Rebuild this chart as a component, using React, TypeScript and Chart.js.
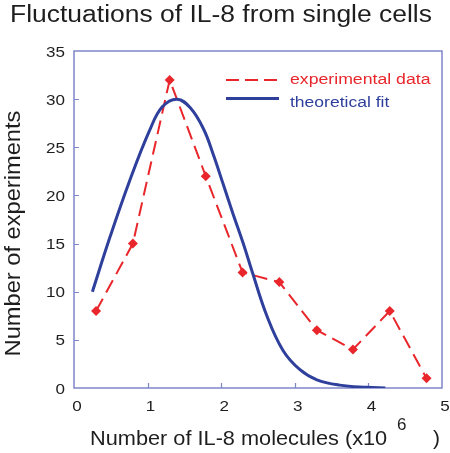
import React, { useEffect, useRef } from "react";
import { Chart, registerables } from "chart.js";

Chart.register(...registerables);

const titleText = "Fluctuations of IL-8 from single cells";
const yTitle = "Number of experiments";
const xTitleMain = "Number of IL-8 molecules (x10";
const xTitleSup = "6";
const xTitleEnd = ")";
const legendLabels = ["experimental data", "theoretical fit"];

const expX = [0.3, 0.8, 1.3, 1.79, 2.29, 2.79, 3.3, 3.79, 4.29, 4.79];
const expY = [8, 15, 32, 22, 12, 11, 6, 4, 8, 1];

const fitX = [0.25, 0.49, 0.76, 1.03, 1.2, 1.4, 1.58, 1.76, 1.89, 2.03, 2.16, 2.3, 2.42, 2.62, 2.84, 3.07, 3.3, 3.61, 3.98, 4.23];
const fitY = [10, 15.7, 21.6, 26.8, 29.2, 30, 29.1, 26.9, 24.3, 21.1, 18.1, 15.0, 12.1, 7.5, 3.9, 1.9, 0.85, 0.3, 0.07, 0];

const xTickLabels = [0, 1, 2, 3, 4, 5];
const yTickLabels = [0, 5, 10, 15, 20, 25, 30, 35];
const yTickMarks = [5, 10, 15, 20, 25, 30];
const xTickMarks = [1, 2, 3, 4];

const RED = "#e8262b";
const BLUE = "#2e3f9c";
const AXIS = "#7f86c8";
const TEXT = "#1e1e1e";
const FONT = "'Liberation Sans', Arial, Helvetica, sans-serif";

function drawText(ctx: CanvasRenderingContext2D, text: string, x: number, y: number, size: number, sx: number, align: CanvasTextAlign, color: string) {
  ctx.save();
  ctx.translate(x, y);
  ctx.scale(sx, 1);
  ctx.font = `${size}px ${FONT}`;
  ctx.fillStyle = color;
  ctx.textAlign = align;
  ctx.textBaseline = "alphabetic";
  ctx.fillText(text, 0, 0);
  ctx.restore();
}

const deco = {
  id: "deco",
  beforeDatasetsDraw(chart: any) {
    const { ctx, chartArea: a, scales } = chart;
    const x = scales.x;
    const y = scales.y;
    ctx.save();
    ctx.strokeStyle = AXIS;
    ctx.lineWidth = 1.5;
    ctx.strokeRect(a.left, a.top, a.right - a.left, a.bottom - a.top);
    ctx.lineWidth = 1.2;
    ctx.beginPath();
    yTickMarks.forEach((v) => {
      const py = Math.round(y.getPixelForValue(v)) + 0.5;
      ctx.moveTo(a.left, py);
      ctx.lineTo(a.left + 5, py);
    });
    xTickMarks.forEach((v) => {
      const px = Math.round(x.getPixelForValue(v)) + 0.5;
      ctx.moveTo(px, a.bottom);
      ctx.lineTo(px, a.bottom - 5);
    });
    ctx.stroke();
    ctx.restore();

    yTickLabels.forEach((v) => {
      drawText(ctx, String(v), a.left - 9, y.getPixelForValue(v) + 5.5, 15.5, 1.1, "right", TEXT);
    });
    xTickLabels.forEach((v) => {
      drawText(ctx, String(v), x.getPixelForValue(v) + 3, a.bottom + 22.5, 15.5, 1.1, "center", TEXT);
    });
  },
  afterDraw(chart: any) {
    const { ctx } = chart;
    ctx.save();
    ctx.lineWidth = 2;
    ctx.strokeStyle = RED;
    ctx.setLineDash([13, 6]);
    ctx.beginPath();
    ctx.moveTo(226, 80);
    ctx.lineTo(279, 80);
    ctx.stroke();
    ctx.setLineDash([]);
    ctx.lineWidth = 3;
    ctx.strokeStyle = BLUE;
    ctx.beginPath();
    ctx.moveTo(226, 98.5);
    ctx.lineTo(279, 98.5);
    ctx.stroke();
    ctx.restore();
    drawText(ctx, legendLabels[0], 290, 84, 15.5, 1.14, "left", RED);
    drawText(ctx, legendLabels[1], 290, 107, 15.5, 1.13, "left", BLUE);

    drawText(ctx, titleText, 221, 22, 23, 1.15, "center", TEXT);

    ctx.save();
    ctx.translate(20, 233.5);
    ctx.rotate(-Math.PI / 2);
    drawText(ctx, yTitle, 0, 0, 21.5, 1.1, "center", TEXT);
    ctx.restore();

    drawText(ctx, xTitleMain, 90, 445, 21, 1.035, "left", TEXT);
    drawText(ctx, xTitleSup, 397, 430, 17, 1.0, "left", TEXT);
    drawText(ctx, xTitleEnd, 433, 445, 21, 1.0, "left", TEXT);
  },
};

export default function App() {
  const ref = useRef<HTMLCanvasElement | null>(null);
  useEffect(() => {
    document.body.style.margin = "0";
    const canvas = ref.current;
    if (!canvas) return;
    const chart = new Chart(canvas, {
      type: "scatter",
      data: {
        datasets: [
          {
            label: legendLabels[1],
            data: fitX.map((v, i) => ({ x: v, y: fitY[i] })),
            showLine: true,
            borderColor: BLUE,
            backgroundColor: BLUE,
            borderWidth: 3,
            pointRadius: 0,
            tension: 0.4,
          },
          {
            label: legendLabels[0],
            data: expX.map((v, i) => ({ x: v, y: expY[i] })),
            showLine: true,
            borderColor: RED,
            backgroundColor: RED,
            borderWidth: 2,
            borderDash: [14, 7],
            pointStyle: "rectRot",
            pointRadius: 5,
            pointBorderWidth: 0,
            tension: 0,
          },
        ],
      },
      options: {
        responsive: false,
        animation: false,
        layout: { padding: { left: 0, right: 8, top: 51, bottom: 0 } },
        plugins: { legend: { display: false }, tooltip: { enabled: false }, title: { display: false } },
        scales: {
          x: {
            type: "linear",
            min: 0,
            max: 5,
            afterFit: (s: any) => {
              s.height = 65;
            },
            grid: { display: false, drawTicks: false },
            border: { display: false },
            ticks: { display: false, stepSize: 1 },
          },
          y: {
            type: "linear",
            min: 0,
            max: 35,
            afterFit: (s: any) => {
              s.width = 74;
            },
            grid: { display: false, drawTicks: false },
            border: { display: false },
            ticks: { display: false, stepSize: 5 },
          },
        },
      },
      plugins: [deco],
    });
    return () => chart.destroy();
  }, []);
  return <canvas ref={ref} width={450} height={453} style={{ display: "block" }} />;
}
